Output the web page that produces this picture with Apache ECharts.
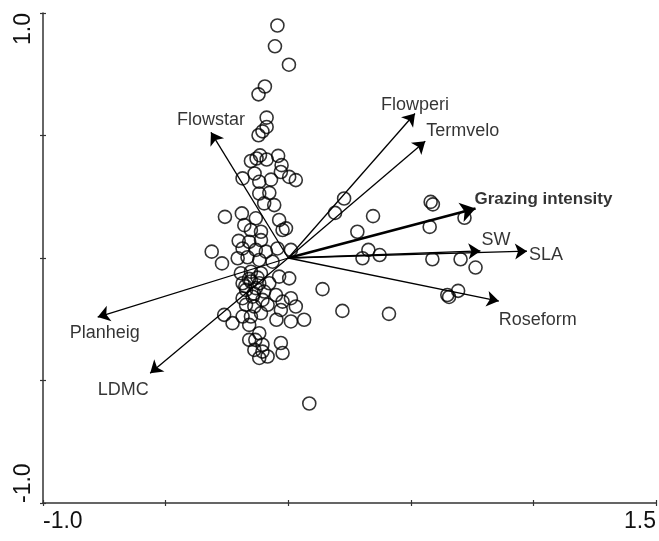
<!DOCTYPE html>
<html>
<head>
<meta charset="utf-8">
<script src="https://cdn.jsdelivr.net/npm/echarts@6/dist/echarts.min.js"></script>
<style>
  html, body { margin: 0; padding: 0; background: #fff; }
  #chart { width: 659px; height: 541px; }
</style>
</head>
<body>
<div id="chart"></div>
<script>
// site scores (x, y)
var siteX = [-0.044, -0.054, 0.003, -0.095, -0.121, -0.088, -0.088, -0.105, -0.121, -0.129,
  -0.088, -0.041, -0.152, -0.027, -0.115, -0.137, -0.030, -0.186, 0.004, 0.031,
  -0.118, -0.070, -0.118, -0.077, -0.098, -0.057, -0.258, -0.189, -0.132, -0.179,
  -0.152, -0.111, -0.037, -0.023, -0.009, -0.202, -0.159, -0.111, -0.186, -0.132,
  -0.091, -0.044, 0.011, -0.312, -0.270, -0.206, -0.166, -0.118, -0.064, -0.193,
  -0.152, -0.111, -0.037, 0.004, -0.186, -0.152, -0.118, -0.172, -0.132, -0.098,
  -0.077, 0.140, -0.186, -0.145, -0.105, -0.050, -0.023, 0.011, -0.172, -0.138,
  -0.084, -0.030, 0.031, -0.261, -0.227, -0.186, -0.152, -0.111, -0.048, 0.011,
  0.065, -0.159, -0.118, -0.134, -0.159, -0.105, -0.030, -0.138, -0.105, -0.084,
  -0.023, -0.118, 0.086, 0.228, 0.191, 0.346, 0.282, 0.581, 0.590, 0.577,
  0.719, 0.327, 0.303, 0.373, 0.588, 0.703, 0.764, 0.221, 0.411, 0.649,
  0.656, 0.693, -0.160, -0.125, -0.175, -0.140];
var siteY = [0.949, 0.864, 0.789, 0.700, 0.668, 0.573, 0.535, 0.517, 0.501, 0.406,
  0.402, 0.417, 0.396, 0.379, 0.419, 0.345, 0.351, 0.325, 0.331, 0.318,
  0.311, 0.320, 0.263, 0.266, 0.223, 0.216, 0.168, 0.182, 0.162, 0.134,
  0.114, 0.107, 0.155, 0.114, 0.121, 0.070, 0.066, 0.073, 0.039, 0.033,
  0.026, 0.039, 0.033, 0.026, -0.022, -0.001, 0.003, -0.008, -0.015, -0.062,
  -0.056, -0.062, -0.076, -0.083, -0.103, -0.096, -0.103, -0.130, -0.123, -0.137,
  -0.103, -0.127, -0.164, -0.158, -0.171, -0.151, -0.178, -0.164, -0.191, -0.198,
  -0.191, -0.212, -0.198, -0.232, -0.266, -0.239, -0.239, -0.225, -0.252, -0.259,
  -0.252, -0.273, -0.307, -0.334, -0.334, -0.354, -0.347, -0.375, -0.382, -0.402,
  -0.388, -0.408, -0.594, 0.243, 0.184, 0.171, 0.107, 0.229, 0.219, 0.127,
  0.164, 0.033, -0.001, 0.012, -0.005, -0.005, -0.039, -0.216, -0.228, -0.151,
  -0.159, -0.134, -0.085, -0.080, -0.115, -0.145];

// trait / environment vectors
var varNames = ['Flowstar', 'Flowperi', 'Termvelo', 'Grazing intensity', 'SW', 'SLA', 'Roseform', 'Planheig', 'LDMC'];
var varX = [-0.315, 0.517, 0.559, 0.764, 0.784, 0.974, 0.859, -0.777, -0.563];
var varY = [0.513, 0.590, 0.477, 0.202, 0.029, 0.028, -0.176, -0.241, -0.470];

var xTicks = [-1.0, 1.5];
var yTicks = [-1.0, 1.0];

// label placement for each vector name (pixels from arrow tip)
var labelPlace = {
  'Flowstar': { align: 'center', offset: [0, -12] },
  'Flowperi': { align: 'center', offset: [0, -8] },
  'Termvelo': { align: 'left', offset: [1, -10] },
  'Grazing intensity': { align: 'left', offset: [-1, -9], bold: true },
  'SW': { align: 'left', offset: [1, -11] },
  'SLA': { align: 'left', offset: [2, 4] },
  'Roseform': { align: 'left', offset: [0, 19] },
  'Planheig': { align: 'center', offset: [7, 16] },
  'LDMC': { align: 'center', offset: [-27, 17] }
};

;(function() {
  var font = '"Liberation Sans", Arial, sans-serif';
  var chart = echarts.init(document.getElementById('chart'));

  var sites = siteX.map(function(x, i) { return [x, siteY[i]]; });

  var arrows = varNames.map(function(name, i) {
    var bold = labelPlace[name].bold;
    return {
      coords: [[0, 0], [varX[i], varY[i]]],
      lineStyle: { width: bold ? 2.8 : 1.3 },
      symbolSize: bold ? 15 : 12
    };
  });

  var tips = varNames.map(function(name, i) {
    var p = labelPlace[name];
    return {
      value: [varX[i], varY[i]],
      name: name,
      label: {
        show: true,
        formatter: name,
        position: 'inside',
        align: p.align,
        verticalAlign: 'middle',
        offset: p.offset,
        color: '#000',
        fontFamily: font,
        fontWeight: p.bold ? 'bold' : 'normal',
        fontSize: p.bold ? 17 : 18
      }
    };
  });

  function tickFmt(list) {
    return function(v) {
      for (var i = 0; i < list.length; i++) {
        if (Math.abs(v - list[i]) < 1e-6) return list[i].toFixed(1);
      }
      return '';
    };
  }

  var tickStyle = { color: '#333', width: 1.2 };

  chart.setOption({
    backgroundColor: '#fff',
    animation: false,
    grid: { left: 43, right: 2, top: 13, bottom: 38 },
    xAxis: [{
      type: 'value', min: -1, max: 1.5, interval: 0.5, position: 'bottom',
      axisLine: { show: true, onZero: false, lineStyle: { color: '#333', width: 1.5 } },
      axisTick: { show: true, length: 3, lineStyle: tickStyle },
      splitLine: { show: false },
      axisLabel: {
        formatter: tickFmt(xTicks), fontSize: 23, color: '#111', fontFamily: font,
        margin: 7, alignMinLabel: 'left', alignMaxLabel: 'right',
        showMinLabel: true, showMaxLabel: true
      }
    }, {
      type: 'value', min: -1, max: 1.5, interval: 0.5, position: 'bottom',
      axisLine: { show: false, onZero: false },
      axisTick: { show: true, inside: true, length: 3, lineStyle: tickStyle },
      axisLabel: { show: false }, splitLine: { show: false }
    }],
    yAxis: [{
      type: 'value', min: -1, max: 1, interval: 0.5, position: 'left',
      axisLine: { show: true, onZero: false, lineStyle: { color: '#333', width: 1.5 } },
      axisTick: { show: true, length: 3, lineStyle: tickStyle },
      splitLine: { show: false },
      axisLabel: {
        formatter: tickFmt(yTicks), fontSize: 23, color: '#111', fontFamily: font,
        margin: 8, rotate: 90, alignMinLabel: 'left', alignMaxLabel: 'right',
        showMinLabel: true, showMaxLabel: true
      }
    }, {
      type: 'value', min: -1, max: 1, interval: 0.5, position: 'left',
      axisLine: { show: false, onZero: false },
      axisTick: { show: true, inside: true, length: 3, lineStyle: tickStyle },
      axisLabel: { show: false }, splitLine: { show: false }
    }],
    series: [{
      type: 'scatter',
      data: sites,
      symbol: 'circle',
      symbolSize: 13,
      itemStyle: { color: 'rgba(0,0,0,0)', borderColor: '#000', borderWidth: 1.6 },
      silent: true,
      z: 2
    }, {
      type: 'lines',
      coordinateSystem: 'cartesian2d',
      data: arrows,
      symbol: ['none', 'arrow'],
      lineStyle: { color: '#000', opacity: 1, curveness: 0 },
      silent: true,
      z: 3
    }, {
      type: 'scatter',
      data: tips,
      symbolSize: 0,
      silent: true,
      z: 4
    }]
  });
})();
</script>
</body>
</html>
